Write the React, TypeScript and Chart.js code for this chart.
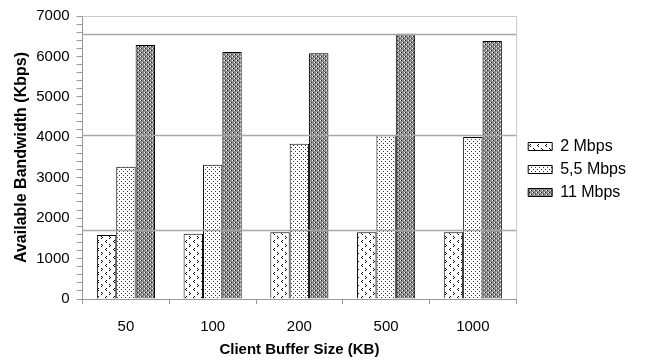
import React, { useEffect, useRef } from "react";
import { Chart, registerables } from "chart.js";

Chart.register(...registerables);

const categories = ["50", "100", "200", "500", "1000"];
const seriesNames = ["2 Mbps", "5,5 Mbps", "11 Mbps"];
const series2 = [1585, 1615, 1650, 1650, 1650];
const series55 = [3270, 3320, 3840, 4050, 4010];
const series11 = [6280, 6110, 6080, 6560, 6380];
const gridValues = [1715, 4050, 6565];
const yMax = 7000;

function makePattern(kind: number): CanvasPattern | string {
  const c = document.createElement("canvas");
  const ctx = c.getContext("2d");
  if (!ctx) return "#fff";
  if (kind === 0) {
    c.width = 8;
    c.height = 8;
    ctx.fillStyle = "#ffffff";
    ctx.fillRect(0, 0, 8, 8);
    ctx.fillStyle = "#000000";
    ctx.fillRect(2, 0, 1, 1);
    ctx.fillRect(1, 1, 1, 1);
    ctx.fillRect(2, 2, 1, 1);
    ctx.fillRect(5, 4, 1, 1);
    ctx.fillRect(6, 5, 1, 1);
    ctx.fillRect(5, 6, 1, 1);
  } else if (kind === 1) {
    c.width = 4;
    c.height = 4;
    ctx.fillStyle = "#ffffff";
    ctx.fillRect(0, 0, 4, 4);
    ctx.fillStyle = "#333333";
    ctx.fillRect(1, 1, 1, 1);
    ctx.fillRect(3, 3, 1, 1);
  } else {
    c.width = 4;
    c.height = 4;
    ctx.fillStyle = "#8c8c8c";
    ctx.fillRect(0, 0, 4, 4);
    ctx.fillStyle = "#ffffff";
    ctx.fillRect(0, 0, 1, 1);
    ctx.fillRect(2, 2, 1, 1);
    ctx.fillStyle = "#222222";
    ctx.fillRect(1, 0, 1, 1);
    ctx.fillRect(3, 2, 1, 1);
  }
  const p = ctx.createPattern(c, "repeat");
  return p || "#fff";
}

const LEGEND_DX = 5;
const LEGEND_DY = -17;

const framePlugin = {
  id: "frameAndGrid",
  afterLayout(chart: any) {
    const l = chart.legend;
    if (l) {
      l.left += LEGEND_DX;
      l.right += LEGEND_DX;
      l.top += LEGEND_DY;
      l.bottom += LEGEND_DY;
    }
  },
  beforeDatasetsDraw(chart: any) {
    const { ctx, chartArea } = chart;
    ctx.save();
    ctx.strokeStyle = "#c8c8c8";
    ctx.lineWidth = 1;
    ctx.beginPath();
    ctx.moveTo(chartArea.left, chartArea.top + 0.5);
    ctx.lineTo(chartArea.right + 0.5, chartArea.top + 0.5);
    ctx.lineTo(chartArea.right + 0.5, chartArea.bottom);
    ctx.stroke();
    ctx.restore();
  },
  afterDatasetsDraw(chart: any) {
    const { ctx, chartArea, scales } = chart;
    ctx.save();
    ctx.strokeStyle = "#a8a8a8";
    ctx.lineWidth = 1.5;
    gridValues.forEach((v) => {
      const y = Math.round(scales.y.getPixelForValue(v)) + 0.5;
      ctx.beginPath();
      ctx.moveTo(chartArea.left, y);
      ctx.lineTo(chartArea.right, y);
      ctx.stroke();
    });
    ctx.restore();
  },
};

export default function App() {
  const ref = useRef<HTMLCanvasElement | null>(null);
  useEffect(() => {
    document.body.style.margin = "0";
    if (!ref.current) return;
    const font = "'Liberation Sans', Arial, sans-serif";
    const data = [series2, series55, series11];
    const chart = new Chart(ref.current, {
      type: "bar",
      data: {
        labels: categories,
        datasets: data.map((d, i) => ({
          label: seriesNames[i],
          data: d,
          backgroundColor: makePattern(i) as any,
          borderColor: "#000000",
          borderWidth: 1,
          borderSkipped: "bottom",
          categoryPercentage: 0.67,
          barPercentage: 1.0,
        })),
      },
      options: {
        responsive: false,
        animation: false,
        layout: { padding: { left: 0, right: 14, top: 14, bottom: 3 } },
        plugins: {
          tooltip: { enabled: false },
          legend: {
            position: "right",
            align: "center",
            labels: {
              boxWidth: 24,
              boxHeight: 8,
              padding: 7,
              color: "#000",
              font: { family: font, size: 16 },
            },
          },
        },
        scales: {
          x: {
            offset: true,
            grid: {
              offset: true,
              drawOnChartArea: false,
              drawTicks: true,
              tickLength: 5,
              color: "#999",
            },
            border: { color: "#999", width: 1 },
            ticks: { color: "#000", font: { family: font, size: 15 }, padding: 14 },
            title: {
              display: true,
              text: "Client Buffer Size (KB)",
              color: "#000",
              font: { family: font, size: 15, weight: "bold" },
              padding: { top: -9, bottom: 0 },
            },
          },
          y: {
            min: 0,
            max: yMax,
            grid: {
              drawOnChartArea: false,
              drawTicks: true,
              tickLength: 6,
              color: "#999",
            },
            border: { color: "#999", width: 1 },
            ticks: {
              stepSize: 200,
              autoSkip: false,
              color: "#000",
              font: { family: font, size: 15 },
              padding: 7,
              callback: (v: any) => (Number(v) % 1000 === 0 ? String(v) : ""),
            },
            title: {
              display: true,
              text: "Available Bandwidth (Kbps)",
              color: "#000",
              font: { family: font, size: 16, weight: "bold" },
              padding: { top: 12, bottom: -2 },
            },
          },
        },
      },
      plugins: [framePlugin],
    });
    return () => chart.destroy();
  }, []);
  return (
    <div style={{ width: 645, height: 362 }}>
      <canvas ref={ref} width={645} height={362} />
    </div>
  );
}
